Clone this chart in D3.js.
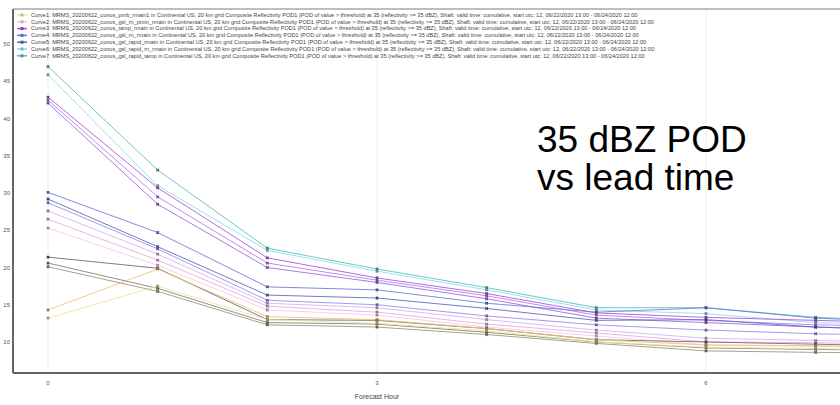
<!DOCTYPE html>
<html>
<head>
<meta charset="utf-8">
<script src="https://cdn.jsdelivr.net/npm/d3@7"></script>
<style>
	body { margin: 0; background: #fff; }
	svg { display: block; font-family: "Liberation Sans", Arial, sans-serif; }
</style>
</head>
<body>
<div id="view"></div>
<script>
var width = 840, height = 405;

// forecast hours and axis ticks
var hours = [0, 1, 2, 3, 4, 5, 6, 7, 8];
var xTicks = [0, 3, 6];
var yTicks = [10, 15, 20, 25, 30, 35, 40, 45, 50];

// POD values (%) per run
var tealA     = [47.0, 33.1, 22.6, 19.8, 17.3, 14.6, 14.6, 13.3, 12.8];
var cyanB     = [45.9, 31.0, 22.3, 19.5, 17.0, 14.3, 13.8, 12.6, 12.2];
var purpleA   = [42.9, 30.7, 21.3, 18.6, 16.5, 13.9, 13.3, 12.9, 12.5];
var purpleB   = [42.5, 29.5, 20.6, 18.3, 16.2, 13.6, 12.9, 12.3, 12.0];
var violet    = [42.1, 28.5, 20.0, 18.0, 15.8, 13.2, 12.6, 12.0, 11.6];
var blueA     = [30.1, 24.7, 17.4, 17.0, 15.2, 14.0, 14.6, 13.2, 12.6];
var blueB     = [29.2, 22.8, 16.3, 15.9, 14.5, 12.9, 13.0, 12.0, 11.5];
var indigo    = [28.7, 22.5, 15.6, 15.0, 13.5, 12.3, 11.6, 11.1, 10.8];
var lavender  = [27.6, 21.8, 15.2, 14.6, 13.0, 11.6, 10.5, 10.2, 9.9];
var pinkA     = [26.5, 21.0, 14.8, 14.0, 12.4, 11.2, 10.0, 9.9, 9.6];
var pinkB     = [25.3, 20.3, 14.3, 13.6, 12.0, 10.8, 9.6, 9.4, 9.2];
var darkA     = [21.4, 19.9, 13.0, 12.9, 11.8, 10.3, 10.0, 9.7, 9.4];
var darkB     = [20.6, 17.2, 12.6, 12.4, 11.3, 10.0, 9.2, 9.0, 8.8];
var olive     = [20.1, 16.8, 12.3, 12.0, 11.0, 9.8, 8.8, 8.6, 8.5];
var orange    = [14.3, 19.8, 13.4, 13.0, 11.8, 10.3, 9.6, 9.5, 9.2];
var yellow    = [13.2, 17.5, 13.0, 12.5, 11.5, 10.0, 9.3, 9.1, 8.9];

var seriesList = [tealA, cyanB, purpleA, purpleB, violet, blueA, blueB, indigo,
	lavender, pinkA, pinkB, darkA, darkB, olive, orange, yellow];
var seriesColors = ["#52bdb8", "#8adce8", "#a550dc", "#bd74ec", "#9866d8", "#6a78dc", "#5a64c0", "#9a86ea",
	"#d2b0f4", "#eaa8dc", "#f4c8ea", "#666666", "#7c7c7c", "#94946a", "#f2c070", "#eee498"];

// legend rows
var legendLabels = [
	"Curve1: MRMS_20200622_conus_pmb_rmain1 in Continental US, 20 km grid Composite Reflectivity POD1 (POD of value > threshold) at 35 (reflectivity >= 35 dBZ), Shaft: valid time: cumulative, start utc: 12, 06/22/2020 13:00 - 06/24/2020 12:00",
	"Curve2: MRMS_20200622_conus_gsl_rn_pmin_rmain in Continental US, 20 km grid Composite Reflectivity POD1 (POD of value > threshold) at 35 (reflectivity >= 35 dBZ), Shaft: valid time: cumulative, start utc: 12, 06/22/2020 13:00 - 06/24/2020 12:00",
	"Curve3: MRMS_20200622_conus_tamp_rmain in Continental US, 20 km grid Composite Reflectivity POD1 (POD of value > threshold) at 35 (reflectivity >= 35 dBZ), Shaft: valid time: cumulative, start utc: 12, 06/22/2020 13:00 - 06/24/2020 12:00",
	"Curve4: MRMS_20200622_conus_gsl_rn_rmain in Continental US, 20 km grid Composite Reflectivity POD1 (POD of value > threshold) at 35 (reflectivity >= 35 dBZ), Shaft: valid time: cumulative, start utc: 12, 06/22/2020 13:00 - 06/24/2020 12:00",
	"Curve5: MRMS_20200622_conus_gsl_rapid_rmain in Continental US, 20 km grid Composite Reflectivity POD1 (POD of value > threshold) at 35 (reflectivity >= 35 dBZ), Shaft: valid time: cumulative, start utc: 12, 06/22/2020 13:00 - 06/24/2020 12:00",
	"Curve6: MRMS_20200622_conus_gsl_rapid_rn_rmain in Continental US, 20 km grid Composite Reflectivity POD1 (POD of value > threshold) at 35 (reflectivity >= 35 dBZ), Shaft: valid time: cumulative, start utc: 12, 06/22/2020 13:00 - 06/24/2020 12:00",
	"Curve7: MRMS_20200622_conus_gsl_rapid_tamp in Continental US, 20 km grid Composite Reflectivity POD1 (POD of value > threshold) at 35 (reflectivity >= 35 dBZ), Shaft: valid time: cumulative, start utc: 12, 06/22/2020 13:00 - 06/24/2020 12:00"
];
var legendColors = ["#eee498", "#f4c8ea", "#a550dc", "#6a78dc", "#5a64c0", "#8adce8", "#52bdb8"];

var svg = d3.select("#view").append("svg")
	.attr("width", width)
	.attr("height", height);

// plot frame (window.top is reserved, hence plotTop)
var plotLeft = 13, plotTop = 9, plotBottom = 373;

var x = d3.scaleLinear().domain([0, 6]).range([48, 706]);
var y = d3.scaleLinear().domain([5.83, 55.0]).range([plotBottom, 7]);

// faint vertical grid at the hour ticks
svg.selectAll(".vgrid")
	.data(xTicks).enter()
	.append("line")
	.attr("x1", function(d) { return x(d); })
	.attr("x2", function(d) { return x(d); })
	.attr("y1", plotTop)
	.attr("y2", plotBottom)
	.style("stroke", "#eeeeee")
	.style("stroke-width", 1);

// lines
var line = d3.line()
	.x(function(d, i) { return x(hours[i]); })
	.y(function(d) { return y(d); });

var g = svg.append("g");

g.selectAll(".curve")
	.data(seriesList).enter()
	.append("path")
	.attr("class", "curve")
	.attr("d", line)
	.style("fill", "none")
	.style("stroke", function(d, i) { return seriesColors[i]; })
	.style("stroke-opacity", 0.85)
	.style("stroke-width", 1);

// point markers
seriesList.forEach(function(s, k) {
	g.selectAll(".pt" + k)
		.data(s).enter()
		.append("path")
		.attr("transform", function(d, i) { return "translate(" + x(hours[i]) + "," + y(d) + ") rotate(45)"; })
		.attr("d", d3.symbol().type(d3.symbolCross).size(7))
		.style("fill", d3.color(seriesColors[k]).darker(1.3));
});

// axes frame
svg.append("line")
	.attr("x1", plotLeft).attr("x2", width).attr("y1", plotTop).attr("y2", plotTop)
	.style("stroke", "#a8a8a8").style("stroke-width", 1.5);
svg.append("line")
	.attr("x1", plotLeft).attr("x2", plotLeft).attr("y1", plotTop).attr("y2", plotBottom)
	.style("stroke", "#666666").style("stroke-width", 2);
svg.append("line")
	.attr("x1", plotLeft).attr("x2", width).attr("y1", plotBottom).attr("y2", plotBottom)
	.style("stroke", "#666666").style("stroke-width", 2);

// y tick labels
svg.selectAll(".ylab")
	.data(yTicks).enter()
	.append("text")
	.attr("x", 10)
	.attr("y", function(d) { return y(d) + 2; })
	.attr("text-anchor", "end")
	.style("font-size", "6px")
	.style("fill", "#555")
	.text(function(d) { return d; });

// x tick labels
svg.selectAll(".xlab")
	.data(xTicks).enter()
	.append("text")
	.attr("x", function(d) { return x(d); })
	.attr("y", 385)
	.attr("text-anchor", "middle")
	.style("font-size", "6px")
	.style("fill", "#555")
	.text(function(d) { return d; });

svg.append("text")
	.attr("x", x(3))
	.attr("y", 399)
	.attr("text-anchor", "middle")
	.style("font-size", "7px")
	.style("fill", "#444")
	.text("Forecast Hour");

// legend
var leg = svg.append("g");
legendLabels.forEach(function(t, i) {
	var ly = 15 + i * 6.8;
	leg.append("line")
		.attr("x1", 17).attr("x2", 27).attr("y1", ly).attr("y2", ly)
		.style("stroke", legendColors[i]).style("stroke-width", 1.5);
	leg.append("rect")
		.attr("x", 20.5).attr("y", ly - 1.5).attr("width", 3).attr("height", 3)
		.style("fill", d3.color(legendColors[i]).darker(0.5));
	leg.append("text")
		.attr("x", 31).attr("y", ly + 1.7)
		.style("font-size", "5.6px")
		.style("fill", "#444")
		.text(t);
});

// annotation
svg.append("text")
	.attr("x", 537).attr("y", 152)
	.style("font-size", "37px")
	.style("fill", "#000")
	.text("35 dBZ POD");
svg.append("text")
	.attr("x", 537).attr("y", 190)
	.style("font-size", "37px")
	.style("fill", "#000")
	.text("vs lead time");
</script>
</body>
</html>
